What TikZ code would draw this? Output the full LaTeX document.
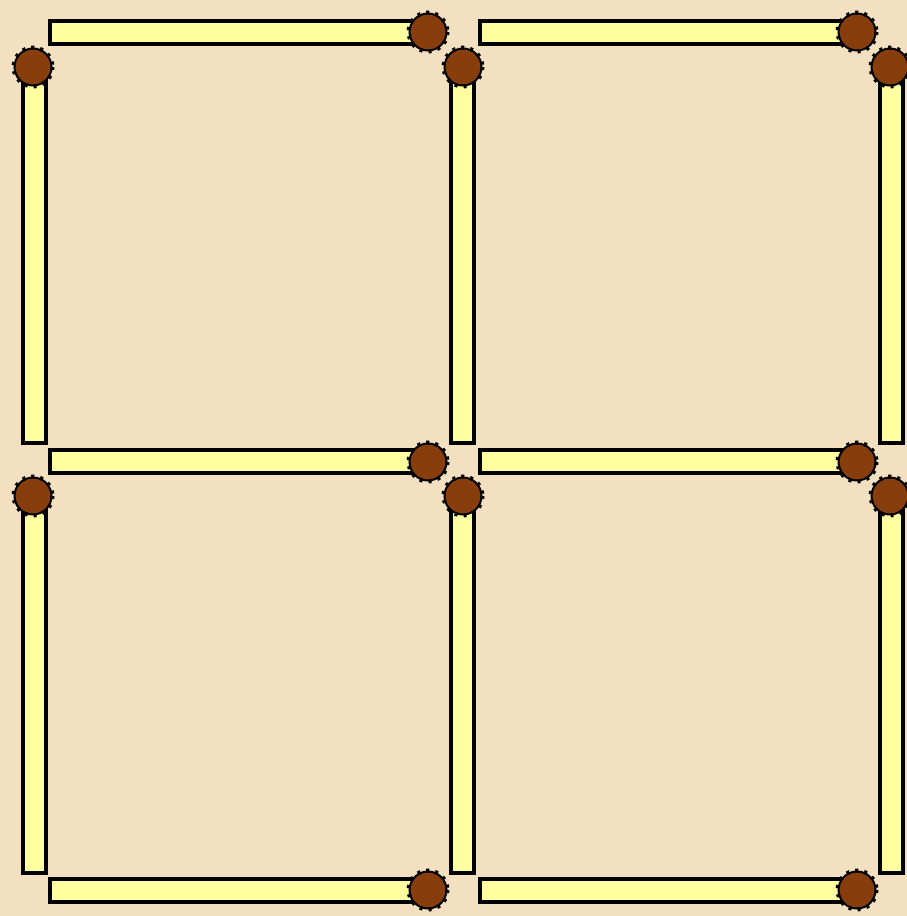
\documentclass[tikz,border=0pt]{standalone}
\definecolor{bgc}{RGB}{243,224,192}
\definecolor{matchc}{RGB}{255,255,160}
\definecolor{headc}{RGB}{135,62,12}
\tikzset{
  stick/.style={fill=matchc,draw=black,line width=3.3pt},
  headfill/.style={fill=headc,draw=black,line width=2pt},
  headbumps/.style={draw=black,line width=4pt,dash pattern=on 3pt off 6pt}
}
\newcommand{\mhead}[2]{%
  \draw[headfill] (#1,#2) circle (18.5);
  \draw[headbumps] (#1,#2) circle (19.5);
  \fill[headc] (#1,#2) circle (16.5);
}
\begin{document}
\begin{tikzpicture}[x=1pt,y=-1pt]
\fill[bgc] (0,0) rectangle (907,916);
\useasboundingbox (0,0) rectangle (907,916);
% horizontal sticks
\foreach \yc in {32.5,461.5,890.5}{
  \foreach \xa/\xb in {50/425,480/855}{
    \draw[stick] (\xa,\yc-11.5) rectangle (\xb,\yc+11.5);
  }
}
% vertical sticks
\foreach \xc in {34.5,462.5,891.5}{
  \foreach \ya/\yb in {67/443,495/873}{
    \draw[stick] (\xc-11.5,\ya) rectangle (\xc+11.5,\yb);
  }
}
% heads of horizontal sticks
\foreach \yc in {32,462,890}{
  \foreach \xc in {428,857}{
    \mhead{\xc}{\yc}
  }
}
% heads of vertical sticks
\foreach \xc in {33,463,890}{
  \foreach \yc in {67,496}{
    \mhead{\xc}{\yc}
  }
}
\end{tikzpicture}
\end{document}
